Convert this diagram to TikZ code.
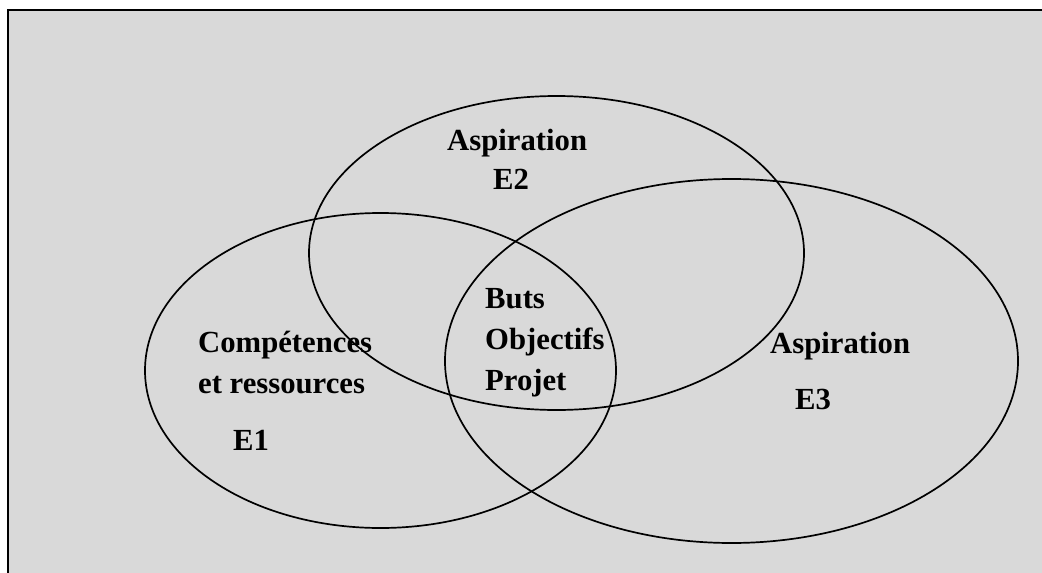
\documentclass[tikz,border=0pt]{standalone}
\usepackage{fontspec}
\setmainfont{Liberation Serif}
\definecolor{bggray}{HTML}{D9D9D9}
\tikzset{
set/.style={draw=black, line width=1.7pt}, % the three ellipses
lbl/.style={anchor=base west, inner sep=0pt, font=\fontsize{30.7}{41}\selectfont\bfseries}, % bold texts
}

\begin{document}
\begin{tikzpicture}[x=1pt, y=-1pt]
    \useasboundingbox (0,0) rectangle (1042,573);
    \clip (0,0) rectangle (1042,573);
    \draw[fill=bggray, line width=2.6pt] (8,10) rectangle (1070,610);
    % the three sets
    \draw[set] (380.5,370.5) ellipse [x radius=235.5pt, y radius=157.5pt];
    \draw[set] (556.5,253) ellipse [x radius=247.5pt, y radius=157pt];
    \draw[set] (731.5,361) ellipse [x radius=286.5pt, y radius=182pt];
    % E1
    \node[lbl] (comp) at (198,352) {Compétences};
    \node[lbl] (ress) at (198,393) {et ressources};
    \node[lbl] (eOne) at (233,450) {E1};
    % E2
    \node[lbl] (aspTwo) at (447,150) {Aspiration};
    \node[lbl] (eTwo) at (493,189) {E2};
    % E3
    \node[lbl] (aspThree) at (770,353) {Aspiration};
    \node[lbl] (eThree) at (795,409) {E3};
    % centre
    \node[lbl] (buts) at (485,308) {Buts};
    \node[lbl] (obj) at (485,349) {Objectifs};
    \node[lbl] (proj) at (485,390) {Projet};
  \end{tikzpicture}
\end{document}
